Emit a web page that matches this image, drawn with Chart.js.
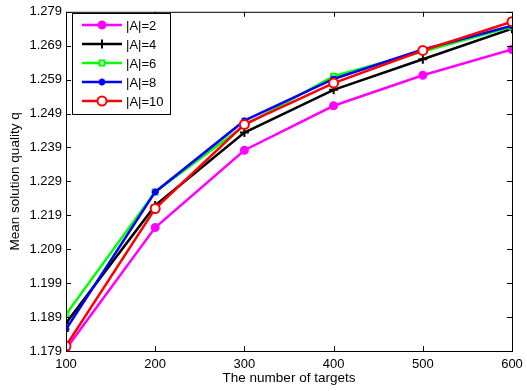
<!DOCTYPE html>
<html lang="en">
<head>
    <meta charset="UTF-8">
    <title>Mean solution quality</title>
    <script src="https://cdn.jsdelivr.net/npm/chart.js"></script>
    <style>
        body { margin: 0; background: #fff; }
        #wrap { width: 527px; height: 391px; }
    </style>
</head>
<body>
    <div id="wrap"><canvas id="qChart"></canvas></div>
    <script>
        // data
        var targets = [100, 200, 300, 400, 500, 600];
        var seriesNames = ['|A|=2', '|A|=4', '|A|=6', '|A|=8', '|A|=10'];
        var a2 = [1.1796, 1.2154, 1.2382, 1.2513, 1.2603, 1.2679];
        var a4 = [1.1872, 1.2219, 1.2434, 1.2560, 1.2650, 1.2740];
        var a6 = [1.1898, 1.2259, 1.2455, 1.2600, 1.2673, 1.2746];
        var a8 = [1.1854, 1.2259, 1.2469, 1.2592, 1.2679, 1.2749];
        var a10 = [1.1805, 1.2210, 1.2458, 1.2580, 1.2676, 1.2761];
        var yTicks = [1.179, 1.189, 1.199, 1.209, 1.219, 1.229, 1.239, 1.249, 1.259, 1.269, 1.279];
        var xTicks = [100, 200, 300, 400, 500, 600];

        var colors = ['#ff00ff', '#000000', '#00ff00', '#0000ff', '#ff0000'];
        var styles = ['circle', 'cross', 'rect', 'star', 'circle'];
        var fills = ['#ff00ff', '#000000', '#ffffff', '#0000ff', '#ffffff'];
        var radii = [3.5, 4.5, 3.5, 3.5, 4.5];
        var allData = [a2, a4, a6, a8, a10];

        var datasets = allData.map(function (vals, i) {
            return {
                label: seriesNames[i],
                data: vals.map(function (v, j) { return { x: targets[j], y: v }; }),
                borderColor: colors[i],
                backgroundColor: fills[i],
                pointBorderColor: colors[i],
                pointBackgroundColor: fills[i],
                pointStyle: styles[i],
                pointRadius: radii[i],
                pointBorderWidth: 2,
                borderWidth: 2.5,
                order: 5 - i
            };
        });

        var font = "Arial, 'Liberation Sans', Helvetica, sans-serif";

        // MATLAB-like box with inward ticks and legend in the upper left
        var boxPlugin = {
            id: 'box',
            afterDraw: function (chart) {
                var ctx = chart.ctx, a = chart.chartArea;
                var xs = chart.scales.x, ys = chart.scales.y;
                ctx.save();
                ctx.strokeStyle = '#000';
                ctx.lineWidth = 1;
                ctx.strokeRect(a.left + 0.5, a.top + 0.5, a.right - a.left, a.bottom - a.top);
                ctx.beginPath();
                xTicks.forEach(function (t) {
                    var px = Math.round(xs.getPixelForValue(t)) + 0.5;
                    ctx.moveTo(px, a.bottom); ctx.lineTo(px, a.bottom - 5);
                    ctx.moveTo(px, a.top); ctx.lineTo(px, a.top + 5);
                });
                yTicks.forEach(function (t) {
                    var py = Math.round(ys.getPixelForValue(t)) + 0.5;
                    ctx.moveTo(a.left, py); ctx.lineTo(a.left + 5, py);
                    ctx.moveTo(a.right, py); ctx.lineTo(a.right - 5, py);
                });
                ctx.stroke();

                // legend
                var lx = 72, ly = 13, lw = 98, lh = 101;
                ctx.fillStyle = '#fff';
                ctx.fillRect(lx, ly, lw, lh);
                ctx.strokeRect(lx + 0.5, ly + 0.5, lw, lh);
                ctx.font = '13px ' + font;
                ctx.textBaseline = 'middle';
                chart.data.datasets.forEach(function (ds, i) {
                    var y = ly + 12 + i * 19;
                    ctx.strokeStyle = ds.borderColor;
                    ctx.lineWidth = 2.5;
                    ctx.beginPath();
                    ctx.moveTo(lx + 10, y); ctx.lineTo(lx + 50, y);
                    ctx.stroke();
                    ctx.fillStyle = ds.pointBackgroundColor;
                    ctx.strokeStyle = ds.pointBorderColor;
                    ctx.lineWidth = 2;
                    Chart.helpers.drawPoint(ctx, { pointStyle: ds.pointStyle, radius: ds.pointRadius, borderWidth: 2, rotation: 0 }, lx + 30, y);
                    ctx.fillStyle = '#000';
                    ctx.textAlign = 'left';
                    ctx.fillText(ds.label, lx + 54, y + 1);
                });
                ctx.restore();
            }
        };

        new Chart(document.getElementById('qChart'), {
            type: 'line',
            data: { datasets: datasets },
            options: {
                responsive: true,
                maintainAspectRatio: false,
                animation: false,
                layout: { padding: { top: 8, right: 15, left: 0, bottom: 5 } },
                plugins: { legend: { display: false }, tooltip: { enabled: false } },
                scales: {
                    x: {
                        type: 'linear',
                        min: 100,
                        max: 600,
                        grid: { display: false, drawTicks: false },
                        border: { display: false },
                        afterBuildTicks: function (s) { s.ticks = xTicks.map(function (v) { return { value: v }; }); },
                        afterFit: function (s) { s.height = 35; s.paddingRight = 0; },
                        ticks: { color: '#000', padding: 6, maxRotation: 0, font: { size: 13, family: font } },
                        title: { display: true, text: 'The number of targets', color: '#000', padding: 0, font: { size: 13.5, family: font } }
                    },
                    y: {
                        min: 1.179,
                        max: 1.279,
                        grid: { display: false, drawTicks: false },
                        border: { display: false },
                        afterBuildTicks: function (s) { s.ticks = yTicks.map(function (v) { return { value: v }; }); },
                        afterFit: function (s) { s.width = 66; },
                        ticks: {
                            color: '#000', padding: 4, font: { size: 13, family: font },
                            callback: function (v) { return Number(v).toFixed(3); }
                        },
                        title: { display: true, text: 'Mean solution quality q', color: '#000', padding: { top: 7, bottom: 0 }, font: { size: 13.5, family: font } }
                    }
                }
            },
            plugins: [boxPlugin]
        });
    </script>
</body>
</html>
